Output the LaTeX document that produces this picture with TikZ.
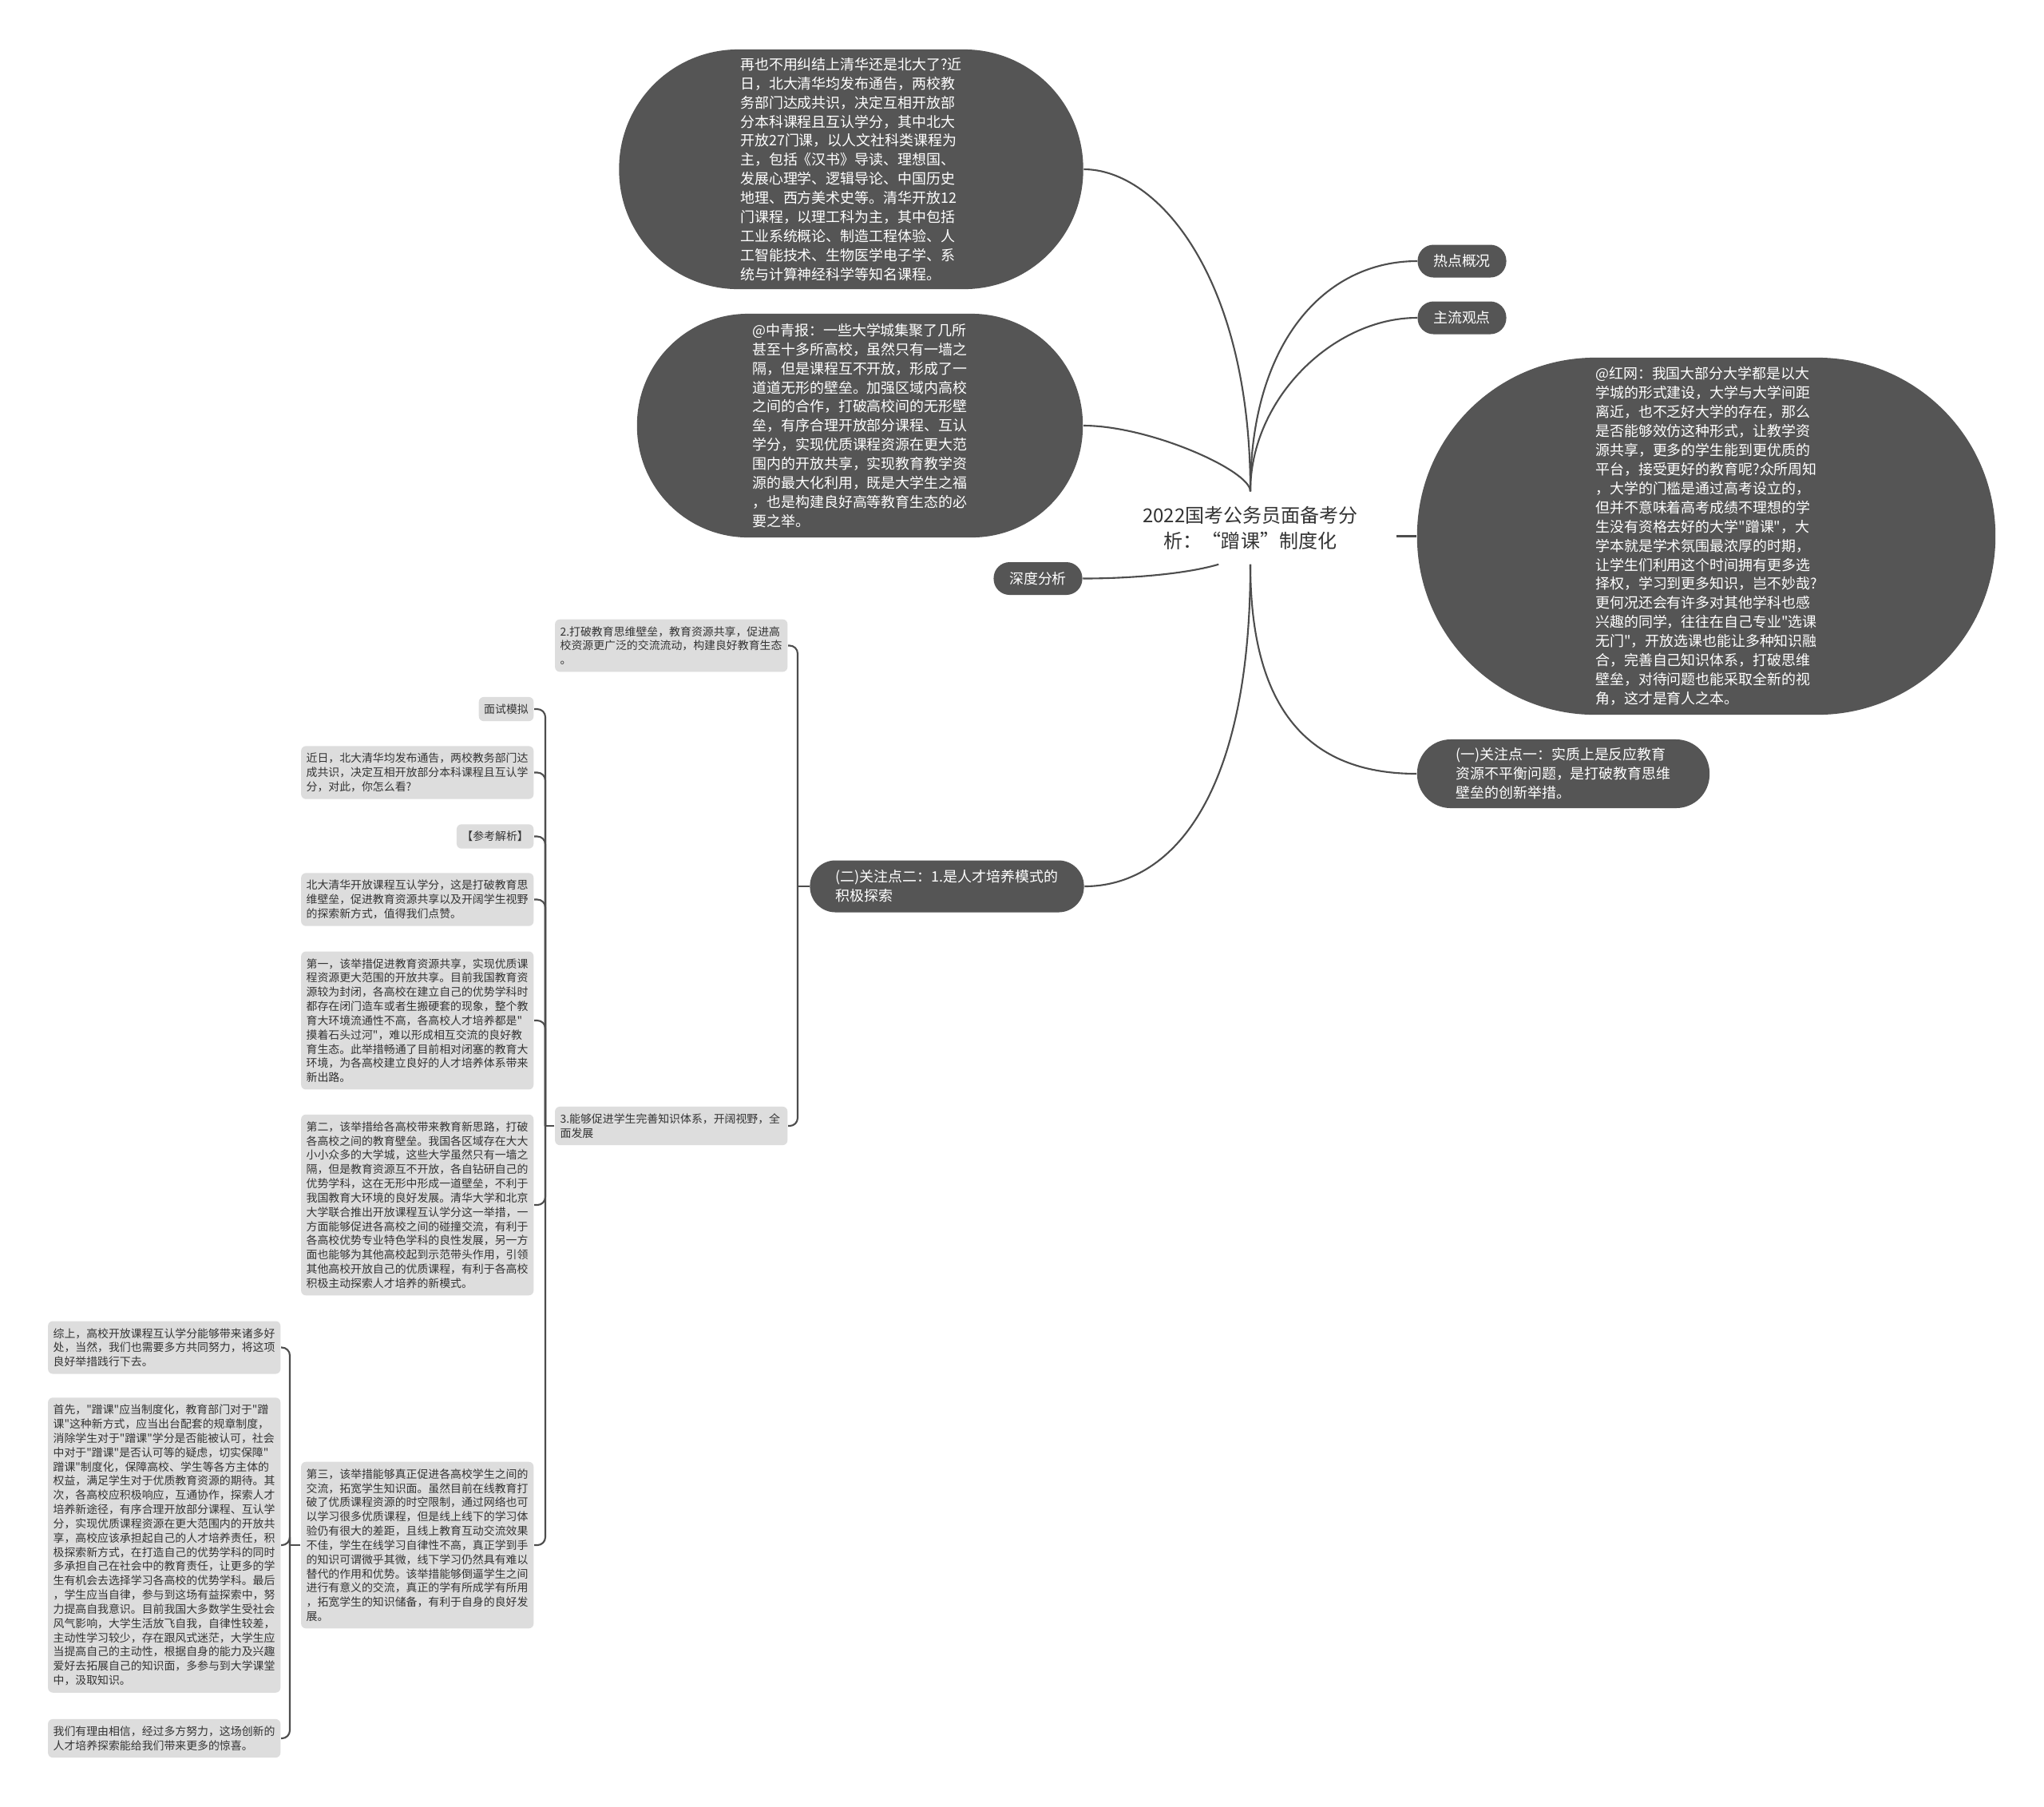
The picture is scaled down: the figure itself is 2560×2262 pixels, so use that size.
\documentclass[tikz,border=0pt]{standalone}
\usepackage{fontspec}
\setmainfont{Noto Sans CJK SC}[Ligatures=TeXOff]
\definecolor{bubblegray}{HTML}{555555}
\definecolor{leafgray}{HTML}{DDDDDD}
\definecolor{linkgray}{HTML}{4D4D4D}
\definecolor{inkgray}{HTML}{333333}

\begin{document}
\begin{tikzpicture}[x=0.01cm,y=-0.01cm,
    bubble/.style={fill=bubblegray,text=white,align=left,inner sep=0pt,font=\fontsize{5.1}{6.8}\selectfont},
    pill/.style={bubble,minimum width=1.11cm,minimum height=0.41cm,rounded corners=0.2cm,align=center},
    leaf/.style={fill=leafgray,text=inkgray,align=left,rounded corners=0.06cm,inner xsep=0.065cm,inner ysep=0.087cm,font=\fontsize{3.95}{5.07}\selectfont},
    wide/.style={leaf,text width=2.78cm,anchor=east},
    link/.style={draw=linkgray,line width=0.6pt},
    bracket/.style={link,rounded corners=0.1cm}]
    \fill[white] (0,0) rectangle (2560,2262);
    \useasboundingbox (0,0) rectangle (2560,2262);
    \node[font=\fontsize{6.83}{9.1}\selectfont,text=inkgray,align=center,
          minimum width=3.64cm,minimum height=0.9cm,inner sep=0pt] (root) at (1566,661)
      {2022国考公务员面备考分\\析：“蹭课”制度化};
    \node[bubble,minimum width=5.81cm,minimum height=3cm,rounded corners=1.49cm] (b1) at (1066,212)
      {再也不用纠结上清华还是北大了?近\\日，北大清华均发布通告，两校教\\务部门达成共识，决定互相开放部\\分本科课程且互认学分，其中北大\\开放27门课，以人文社科类课程为\\主，包括《汉书》导读、理想国、\\发展心理学、逻辑导论、中国历史\\地理、西方美术史等。清华开放12\\门课程，以理工科为主，其中包括\\工业系统概论、制造工程体验、人\\工智能技术、生物医学电子学、系\\统与计算神经科学等知名课程。};
    \node[bubble,minimum width=5.58cm,minimum height=2.8cm,rounded corners=1.39cm] (b2) at (1077,533)
      {@中青报：一些大学城集聚了几所\\甚至十多所高校，虽然只有一墙之\\隔，但是课程互不开放，形成了一\\道道无形的壁垒。加强区域内高校\\之间的合作，打破高校间的无形壁\\垒，有序合理开放部分课程、互认\\学分，实现优质课程资源在更大范\\围内的开放共享，实现教育教学资\\源的最大化利用，既是大学生之福\\，也是构建良好高等教育生态的必\\要之举。};
    \node[bubble,minimum width=7.24cm,minimum height=4.47cm,rounded corners=2.23cm] (b3) at (2137,671.5)
      {@红网：我国大部分大学都是以大\\学城的形式建设，大学与大学间距\\离近，也不乏好大学的存在，那么\\是否能够效仿这种形式，让教学资\\源共享，更多的学生能到更优质的\\平台，接受更好的教育呢?众所周知\\，大学的门槛是通过高考设立的，\\但并不意味着高考成绩不理想的学\\生没有资格去好的大学"蹭课"，大\\学本就是学术氛围最浓厚的时期，\\让学生们利用这个时间拥有更多选\\择权，学习到更多知识，岂不妙哉?\\更何况还会有许多对其他学科也感\\兴趣的同学，往往在自己专业"选课\\无门"，开放选课也能让多种知识融\\合，完善自己知识体系，打破思维\\壁垒，对待问题也能采取全新的视\\角，这才是育人之本。};
    \node[pill] (hot) at (1831,327) {热点概况};
    \node[pill] (main) at (1831,398) {主流观点};
    \node[pill] (deep) at (1300,724.5) {深度分析};
    \node[bubble,minimum width=3.66cm,minimum height=0.86cm,rounded corners=0.42cm] (f1) at (1958,969)
      {(一)关注点一：实质上是反应教育\\资源不平衡问题，是打破教育思维\\壁垒的创新举措。};
    \node[bubble,minimum width=3.43cm,minimum height=0.65cm,rounded corners=0.32cm] (f2) at (1186,1110)
      {(二)关注点二：1.是人才培养模式的\\积极探索};
    \node[wide] (n2) at (987,808.5)
      {2.打破教育思维壁垒，教育资源共享，促进高\\校资源更广泛的交流流动，构建良好教育生态\\。};
    \node[wide] (n3) at (987,1410)
      {3.能够促进学生完善知识体系，开阔视野，全\\面发展};
    \node[leaf,anchor=east] (k1) at (669,888) {面试模拟};
    \node[wide] (k2) at (669,967.5)
      {近日，北大清华均发布通告，两校教务部门达\\成共识，决定互相开放部分本科课程且互认学\\分，对此，你怎么看?};
    \node[leaf,anchor=east] (k3) at (669,1047.5) {【参考解析】};
    \node[wide] (k4) at (669,1126.5)
      {北大清华开放课程互认学分，这是打破教育思\\维壁垒，促进教育资源共享以及开阔学生视野\\的探索新方式，值得我们点赞。};
    \node[wide] (k5) at (669,1278)
      {第一，该举措促进教育资源共享，实现优质课\\程资源更大范围的开放共享。目前我国教育资\\源较为封闭，各高校在建立自己的优势学科时\\都存在闭门造车或者生搬硬套的现象，整个教\\育大环境流通性不高，各高校人才培养都是"\\摸着石头过河"，难以形成相互交流的良好教\\育生态。此举措畅通了目前相对闭塞的教育大\\环境，为各高校建立良好的人才培养体系带来\\新出路。};
    \node[wide] (k6) at (669,1509)
      {第二，该举措给各高校带来教育新思路，打破\\各高校之间的教育壁垒。我国各区域存在大大\\小小众多的大学城，这些大学虽然只有一墙之\\隔，但是教育资源互不开放，各自钻研自己的\\优势学科，这在无形中形成一道壁垒，不利于\\我国教育大环境的良好发展。清华大学和北京\\大学联合推出开放课程互认学分这一举措，一\\方面能够促进各高校之间的碰撞交流，有利于\\各高校优势专业特色学科的良性发展，另一方\\面也能够为其他高校起到示范带头作用，引领\\其他高校开放自己的优质课程，有利于各高校\\积极主动探索人才培养的新模式。};
    \node[wide] (k7) at (669,1935)
      {第三，该举措能够真正促进各高校学生之间的\\交流，拓宽学生知识面。虽然目前在线教育打\\破了优质课程资源的时空限制，通过网络也可\\以学习很多优质课程，但是线上线下的学习体\\验仍有很大的差距，且线上教育互动交流效果\\不佳，学生在线学习自律性不高，真正学到手\\的知识可谓微乎其微，线下学习仍然具有难以\\替代的作用和优势。该举措能够倒逼学生之间\\进行有意义的交流，真正的学有所成学有所用\\，拓宽学生的知识储备，有利于自身的良好发\\展。};
    \node[wide] (s1) at (352,1687.5)
      {综上，高校开放课程互认学分能够带来诸多好\\处，当然，我们也需要多方共同努力，将这项\\良好举措践行下去。};
    \node[wide] (s2) at (352,1935)
      {首先，"蹭课"应当制度化，教育部门对于"蹭\\课"这种新方式，应当出台配套的规章制度，\\消除学生对于"蹭课"学分是否能被认可，社会\\中对于"蹭课"是否认可等的疑虑，切实保障"\\蹭课"制度化，保障高校、学生等各方主体的\\权益，满足学生对于优质教育资源的期待。其\\次，各高校应积极响应，互通协作，探索人才\\培养新途径，有序合理开放部分课程、互认学\\分，实现优质课程资源在更大范围内的开放共\\享，高校应该承担起自己的人才培养责任，积\\极探索新方式，在打造自己的优势学科的同时\\多承担自己在社会中的教育责任，让更多的学\\生有机会去选择学习各高校的优势学科。最后\\，学生应当自律，参与到这场有益探索中，努\\力提高自我意识。目前我国大多数学生受社会\\风气影响，大学生活放飞自我，自律性较差，\\主动性学习较少，存在跟风式迷茫，大学生应\\当提高自己的主动性，根据自身的能力及兴趣\\爱好去拓展自己的知识面，多参与到大学课堂\\中，汲取知识。};
    \node[wide] (s3) at (352,2177)
      {我们有理由相信，经过多方努力，这场创新的\\人才培养探索能给我们带来更多的惊喜。};
    \draw[link] (root.north) .. controls +(0,-267) and +(93,0) .. (b1.east);
    \draw[link] (root.north) .. controls +(0,-26) and +(83,0) .. (b2.east);
    \draw[link] (root.north) .. controls +(0,-186) and +(-116,0) .. (hot.west);
    \draw[link] (root.north) .. controls +(0,-116) and +(-105,0) .. (main.west);
    \draw[link] (root.-131) .. controls +(-40,12) and +(60,0) .. (deep.east);
    \draw[link] (b3.west -| root.east) -- (b3.west);
    \draw[link] (root.south) .. controls +(0,194) and +(-125,0) .. (f1.west);
    \draw[link] (root.south) .. controls +(0,294) and +(107,0) .. (f2.east);
    \coordinate (j2) at (999,1110);
    \coordinate (j3) at (683,1410);
    \coordinate (j4) at (363,1935);
    \draw[link] (f2.west) -- (j2);
    \draw[bracket] (j2) |- (n2.east);\draw[bracket] (j2) |- (n3.east);
    \draw[link] (n3.west) -- (j3);
    \foreach \k in {k1,k2,k3,k4,k5,k6,k7}
      \draw[bracket] (j3) |- (\k.east);
    \draw[link] (k7.west) -- (j4);
    \foreach \s in {s1,s2,s3}
      \draw[bracket] (j4) |- (\s.east);
  \end{tikzpicture}
\end{document}
